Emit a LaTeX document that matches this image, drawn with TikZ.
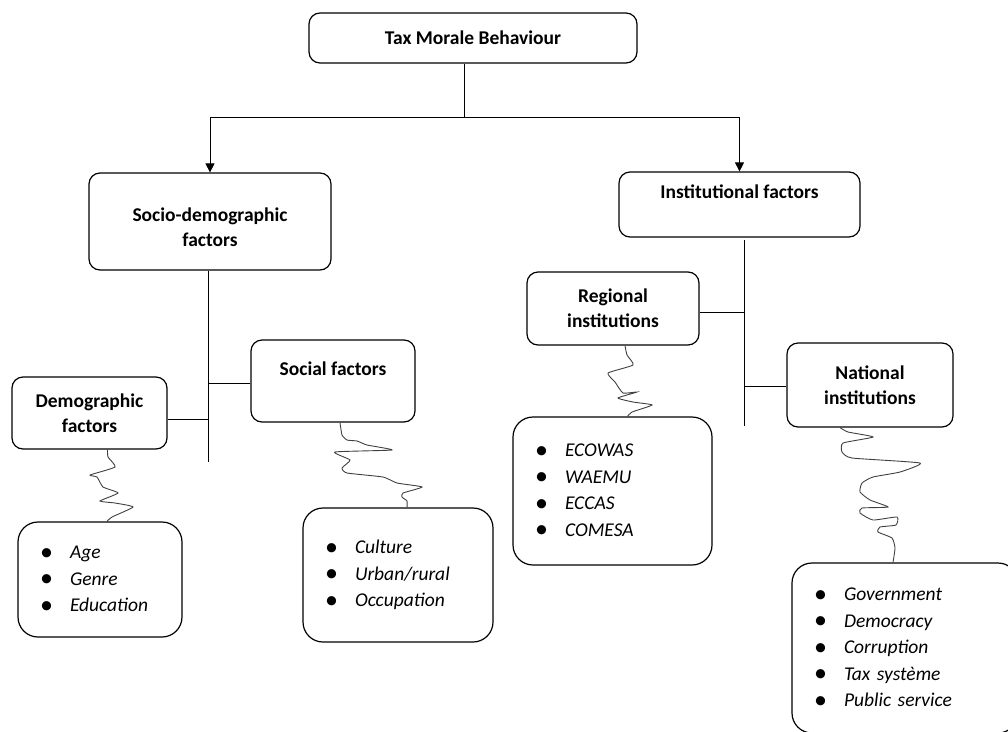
\documentclass[tikz,border=0pt]{standalone}
\usepackage{fontspec}
\setmainfont{Carlito}
\usetikzlibrary{arrows.meta}

\newcommand{\bitem}[1]{\makebox[30pt][l]{\raisebox{-1.5pt}{\fontsize{26}{26}\selectfont\textbullet}}\textit{#1}}

\begin{document}
\begin{tikzpicture}%
            [x=1pt, y=-1pt,
             box/.style={draw, line width=1.2pt, rounded corners=11pt, align=center,
                         font=\fontsize{19.5}{25}\selectfont\bfseries, inner sep=0pt},
             listbox/.style={draw, line width=1.2pt, rounded corners=20pt, align=left,
                         font=\fontsize{19.5}{26.5}\selectfont, inner xsep=22pt, inner ysep=0pt},
             arr/.style={-{Triangle[width=9pt,length=9pt]}},
             squig/.style={draw=black!75, line width=0.9pt}]
            \useasboundingbox (0,0) rectangle (1008,731);

            \node [box, minimum width=328, minimum height=50] (top) at (473,38) {Tax Morale Behaviour};
            \node [box, minimum width=242, minimum height=97] (socio) at (210,221.5) {\mbox{}\\Socio-demographic\\factors};
            \node [box, minimum width=241, minimum height=65] (inst) at (739.5,204.5) {Institutional factors\\\mbox{}};

            \node [box, minimum width=155, minimum height=72] (demo) at (89.5,413) {Demographic\\factors};
            \node [box, minimum width=164, minimum height=82] (social) at (333,381) {Social factors\\\mbox{}};
            \node [box, minimum width=172, minimum height=73] (regional) at (613,308.5) {Regional\\institutions};
            \node [box, minimum width=166, minimum height=84] (national) at (870,385) {National\\institutions};

            \node [listbox, text width=120, minimum height=115] (agebox) at (100,579.5) {\bitem{Age}\\\bitem{Genre}\\\bitem{Education}};
            \node [listbox, text width=146, minimum height=134] (culture) at (398,575) {\bitem{Culture}\\\bitem{Urban/rural}\\\bitem{Occupation}};
            \node [listbox, text width=155, minimum height=148] (ecowas) at (612.5,491) {\bitem{ECOWAS}\\\bitem{WAEMU}\\\bitem{ECCAS}\\\bitem{COMESA}};
            \node [listbox, text width=182, minimum height=170] (govt) at (905,648) {\bitem{Government}\\\bitem{Democracy}\\\bitem{Corruption}\\\bitem{Tax système}\\\bitem{Public service}};

            % tree
            \coordinate (split) at (464,117);
            \draw [line width=0.8pt] (top.south -| split) -- (split);
            \draw [arr, line width=0.8pt] (split) -| (socio.north);
            \draw [arr, line width=0.8pt] (split) -| (inst.north);

            \coordinate (sbot) at (208,462);
            \draw [line width=0.8pt] (socio.south -| sbot) -- (sbot);
            \draw [line width=0.8pt] ([yshift=-6pt]demo.east) -- ([yshift=-6pt]demo.east -| sbot);
            \draw [line width=0.8pt] ([yshift=-2pt]social.west) -- ([yshift=-2pt]social.west -| sbot);

            \coordinate (itop) at (744,240);
            \coordinate (ibot) at (744,426);
            \draw [line width=0.8pt] (itop) -- (ibot);
            \draw [line width=0.8pt] ([yshift=-4pt]regional.east) -- ([yshift=-4pt]regional.east -| itop);
            \draw [line width=0.8pt] ([yshift=-1pt]national.west) -- ([yshift=-1pt]national.west -| itop);

            % squiggles
            \draw [squig] plot [smooth, tension=0.3] coordinates {([xshift=18pt]demo.south) (108,457) (115,467) (90,475) (97,477) (103,487) (118,493) (100,501) (115,503) (133,507) (112,517) ([xshift=7pt]agebox.north)};
            \draw [squig] plot [smooth, tension=0.3] coordinates {([xshift=7pt]social.south) (342,435) (347,440) (357,441) (367,445) (392,450) (335,452) (350,460) (342,468) (347,473) (383,477) (397,483) (422,487) (403,493) (402,497) (407,501) ([xshift=9pt]culture.north)};
            \draw [squig] plot [smooth, tension=0.3] coordinates {([xshift=12pt]regional.south) (627,355) (633,365) (608,373) (615,382) (623,393) (637,392) (618,398) (633,402) (652,405) (632,412) ([xshift=15pt]ecowas.north)};
            \draw [squig] plot [smooth, tension=0.3] coordinates {([xshift=-30pt]national.south) (848,432) (873,437) (843,443) (842,452) (852,458) (920,463) (900,472) (873,477) (862,483) (860,492) (870,500) (888,507) (862,508) (860,513) (873,520) (897,517) (896,525) (880,527) (878,532) (892,538) (895,548) ([xshift=-12pt]govt.north)};
\end{tikzpicture}
\end{document}
